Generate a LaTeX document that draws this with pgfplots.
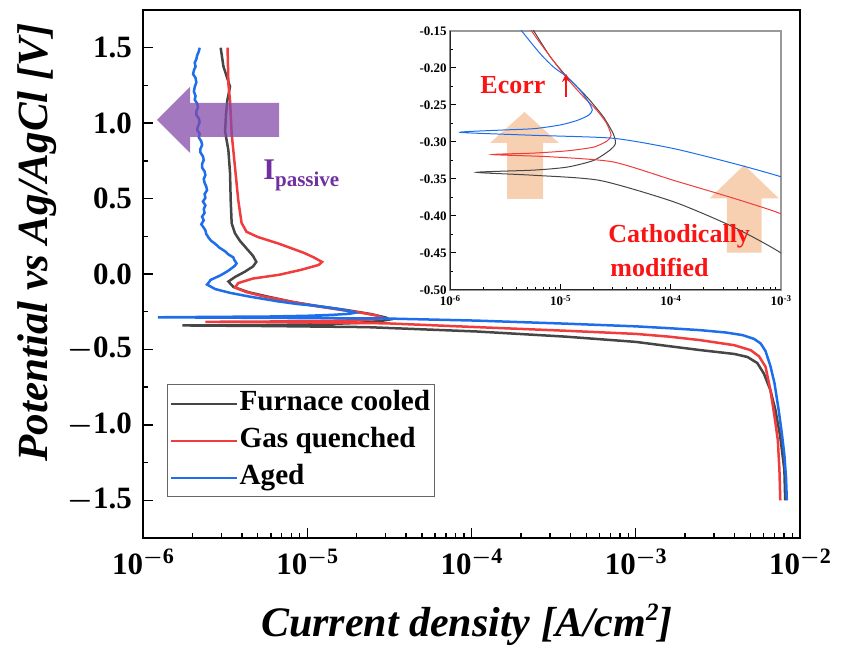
\documentclass[border=0pt]{standalone}
\usepackage{fontspec}
\setmainfont{Liberation Serif}
\usepackage{pgfplots}
\usepackage{pgfplotstable}
\pgfplotsset{compat=1.18}
\usetikzlibrary{arrows.meta}

\definecolor{cfur}{RGB}{70,70,70}
\definecolor{cgas}{RGB}{240,60,60}
\definecolor{cage}{RGB}{30,110,235}
\definecolor{cpur}{RGB}{132,75,168}
\definecolor{ctxt}{RGB}{112,48,160}
\definecolor{cpeach}{RGB}{246,200,165}
\definecolor{cred}{RGB}{250,20,20}

\DeclareRobustCommand{\mn}{{\boldmath$-$}}
\newcommand{\tk}[1]{\fontsize{15.5}{18}\selectfont\bfseries #1}
\newcommand{\dec}[1]{\fontsize{15.5}{18}\selectfont\bfseries 10\raisebox{0.75ex}{\fontsize{11}{11}\selectfont #1}}
\newcommand{\stk}[1]{\fontsize{6.5}{7}\selectfont\bfseries #1}
\newcommand{\sdec}[1]{\fontsize{6.5}{7}\selectfont\bfseries 10\raisebox{0.7ex}{\fontsize{4.5}{5}\selectfont #1}}

% log10 of current density, potential (V)
\pgfplotstableread{
lx E
-2.09 -1.50
-2.095 -1.30
-2.12 -1.08
-2.15 -0.90
-2.18 -0.77
-2.22 -0.66
-2.26 -0.59
-2.32 -0.55
-2.40 -0.530
-2.61 -0.504
-2.80 -0.478
-3.00 -0.450
-3.43 -0.415
-3.97 -0.381
-4.64 -0.352
-5.24 -0.345
-5.76 -0.341
-5.24 -0.338
-4.94 -0.334
-4.70 -0.325
-4.55 -0.311
-4.50 -0.302
-4.52 -0.289
-4.61 -0.266
-4.76 -0.239
-4.94 -0.212
-5.09 -0.185
-5.24 -0.150
-5.36 -0.120
-5.45 -0.085
-5.48 -0.050
-5.44 -0.020
-5.38 0.015
-5.33 0.050
-5.31 0.080
-5.33 0.120
-5.37 0.170
-5.41 0.220
-5.44 0.270
-5.46 0.336
-5.466 0.490
-5.47 0.670
-5.48 0.820
-5.50 0.944
-5.495 1.054
-5.486 1.154
-5.47 1.242
-5.51 1.375
-5.527 1.500
}\fur

\pgfplotstableread{
lx E
-2.12 -1.50
-2.125 -1.30
-2.135 -1.10
-2.155 -0.946
-2.18 -0.77
-2.21 -0.614
-2.25 -0.545
-2.30 -0.505
-2.40 -0.472
-2.61 -0.438
-2.80 -0.415
-3.00 -0.397
-3.43 -0.376
-3.97 -0.352
-4.52 -0.327
-5.09 -0.320
-5.62 -0.317
-5.24 -0.315
-4.94 -0.312
-4.70 -0.307
-4.58 -0.299
-4.54 -0.291
-4.58 -0.275
-4.67 -0.257
-4.79 -0.239
-4.94 -0.214
-5.09 -0.185
-5.26 -0.150
-5.37 -0.120
-5.44 -0.090
-5.42 -0.060
-5.33 -0.030
-5.17 -0.005
-5.04 0.027
-4.93 0.060
-4.91 0.080
-4.96 0.110
-5.02 0.140
-5.17 0.200
-5.30 0.245
-5.37 0.280
-5.40 0.340
-5.42 0.490
-5.44 0.710
-5.46 0.930
-5.47 1.150
-5.48 1.260
-5.485 1.500
}\gas

\pgfplotstableread{
lx E
-2.08 -1.50
-2.085 -1.35
-2.095 -1.20
-2.11 -1.06
-2.13 -0.90
-2.155 -0.725
-2.18 -0.61
-2.21 -0.51
-2.24 -0.46
-2.28 -0.43
-2.35 -0.405
-2.45 -0.388
-2.61 -0.372
-2.80 -0.359
-3.00 -0.347
-3.43 -0.329
-3.97 -0.309
-4.52 -0.295
-5.24 -0.291
-5.91 -0.287
-5.55 -0.284
-5.24 -0.282
-5.00 -0.277
-4.85 -0.271
-4.745 -0.264
-4.71 -0.257
-4.74 -0.247
-4.82 -0.230
-4.94 -0.212
-5.06 -0.199
-5.18 -0.181
-5.35 -0.150
-5.47 -0.125
-5.56 -0.100
-5.61 -0.070
-5.595 -0.050
-5.59 -0.040
-5.55 -0.020
-5.53 -0.010
-5.49 0.015
-5.47 0.030
-5.44 0.055
-5.43 0.070
-5.445 0.095
-5.45 0.110
-5.48 0.130
-5.50 0.150
-5.535 0.175
-5.56 0.200
-5.585 0.220
-5.60 0.240
-5.615 0.265
-5.62 0.290
-5.645 0.330
-5.63 0.355
-5.64 0.380
-5.625 0.405
-5.63 0.430
-5.62 0.455
-5.635 0.480
-5.62 0.505
-5.625 0.530
-5.61 0.555
-5.615 0.580
-5.625 0.605
-5.63 0.630
-5.62 0.655
-5.625 0.680
-5.64 0.705
-5.64 0.730
-5.63 0.755
-5.635 0.780
-5.65 0.805
-5.65 0.830
-5.64 0.855
-5.645 0.880
-5.66 0.905
-5.655 0.930
-5.67 0.955
-5.665 0.980
-5.655 1.005
-5.66 1.030
-5.675 1.055
-5.675 1.080
-5.665 1.105
-5.67 1.130
-5.685 1.155
-5.68 1.180
-5.69 1.210
-5.685 1.240
-5.675 1.270
-5.68 1.300
-5.695 1.325
-5.69 1.350
-5.68 1.375
-5.685 1.400
-5.675 1.425
-5.67 1.450
-5.66 1.475
-5.655 1.500
}\aged

\begin{document}
\begin{tikzpicture}
\useasboundingbox (-71.5pt,-57pt) rectangle (350.5pt,269pt);

\begin{axis}[
  at={(0pt,0pt)}, anchor=south west,
  width=328.5pt, height=264pt, scale only axis,
  xmode=log, xmin=1e-6, xmax=1e-2,
  ymin=-1.75, ymax=1.75,
  xtick={1e-6,1e-5,1e-4,1e-3,1e-2},
  xticklabels={\dec{\mn6},\dec{\mn5},\dec{\mn4},\dec{\mn3},\dec{\mn2}},
  ytick={-1.5,-1,-0.5,0,0.5,1,1.5},
  yticklabels={\tk{\mn1.5},\tk{\mn1.0},\tk{\mn0.5},\tk{0.0},\tk{0.5},\tk{1.0},\tk{1.5}},
  minor ytick={-1.25,-0.75,-0.25,0.25,0.75,1.25},
  tick pos=left, tick align=inside,
  major tick length=5pt, minor tick length=2.5pt,
  axis line style={line width=0.8pt},
  every tick/.style={black, line width=0.7pt},
  xticklabel style={yshift=-2pt},
  yticklabel style={xshift=-2pt},
  xlabel={\fontsize{21}{24}\selectfont\bfseries\itshape Current density [A/cm\raisebox{0.8ex}{\fontsize{12.5}{12.5}\selectfont 2}]},
  xlabel style={at={(axis description cs:0.493,0)}, anchor=base, yshift=-49pt},
  ylabel={\fontsize{21.5}{24}\selectfont\bfseries\itshape Potential vs Ag/AgCl [V]},
  ylabel style={at={(axis description cs:-0.161,0.56)}, anchor=center},
  legend cell align=left,
  legend style={at={(axis description cs:0.0365,0.2917)}, anchor=north west,
    draw=black!60, line width=0.6pt, inner xsep=1pt, inner ysep=1pt,
    font=\fontsize{14.6}{16}\selectfont\bfseries,
    nodes={inner sep=1pt, text height=11pt, text depth=4pt},
    row sep=1.5pt},
  legend image code/.code={\draw[#1] (0pt,0pt) -- (33pt,0pt);},
]
\addplot[cfur, line width=1.25pt, forget plot] table[x expr={10^(\thisrow{lx})}, y=E] {\fur};
\addplot[cgas, line width=1.25pt, forget plot] table[x expr={10^(\thisrow{lx})}, y=E] {\gas};
\addplot[cage, line width=1.25pt, forget plot] table[x expr={10^(\thisrow{lx})}, y=E] {\aged};
\addlegendimage{cfur, line width=1pt}
\addlegendentry{Furnace cooled}
\addlegendimage{cgas, line width=1pt}
\addlegendentry{Gas quenched}
\addlegendimage{cage, line width=1pt}
\addlegendentry{Aged}
\end{axis}

% purple arrow
\fill[cpur, opacity=0.75] (7pt,209pt) -- (23.5pt,225.5pt) -- (23.5pt,217.5pt) -- (68pt,217.5pt)
  -- (68pt,200.5pt) -- (23.5pt,200.5pt) -- (23.5pt,192.5pt) -- cycle;
\node[anchor=base west, text=ctxt, inner sep=0pt] at (60pt,179pt)
  {\fontsize{15}{15}\selectfont\bfseries I\raisebox{-3.5pt}{\fontsize{10.5}{10.5}\selectfont passive}};

% peach arrows (under inset curves)
\fill[cpeach, opacity=0.85] (182pt,169.5pt) -- (182pt,197.5pt) -- (173.5pt,197.5pt) -- (190.75pt,213pt)
  -- (208pt,197.5pt) -- (200pt,197.5pt) -- (200pt,169.5pt) -- cycle;
\fill[cpeach, opacity=0.85] (291.9pt,142.7pt) -- (291.9pt,169.8pt) -- (283.3pt,169.8pt) -- (300.6pt,186.5pt)
  -- (317.9pt,169.8pt) -- (309.3pt,169.8pt) -- (309.3pt,142.7pt) -- cycle;

\begin{axis}[
  at={(153.5pt,124pt)}, anchor=south west,
  width=165.5pt, height=129.5pt, scale only axis,
  xmode=log, xmin=1e-6, xmax=1e-3,
  ymin=-0.5, ymax=-0.15,
  xtick={1e-6,1e-5,1e-4,1e-3},
  xticklabels={\sdec{-6},\sdec{-5},\sdec{-4},\sdec{-3}},
  ytick={-0.5,-0.45,-0.4,-0.35,-0.3,-0.25,-0.2,-0.15},
  yticklabels={\stk{-0.50},\stk{-0.45},\stk{-0.40},\stk{-0.35},\stk{-0.30},\stk{-0.25},\stk{-0.20},\stk{-0.15}},
  minor ytick={-0.475,-0.425,-0.375,-0.325,-0.275,-0.225,-0.175},
  tick pos=left, tick align=inside,
  major tick length=3pt, minor tick length=1.5pt,
  axis line style={draw=black!40, line width=0.6pt},
  every tick/.style={black, line width=0.5pt},
  xticklabel style={inner sep=1pt, yshift=-1.5pt},
  yticklabel style={inner sep=1.5pt},
]
\addplot[cfur, line width=0.5pt, smooth, tension=0.4] table[x expr={10^(\thisrow{lx})}, y=E] {\fur};
\addplot[cgas, line width=0.5pt, smooth, tension=0.4] table[x expr={10^(\thisrow{lx})}, y=E] {\gas};
\addplot[cage, line width=0.5pt, smooth, tension=0.4] table[x expr={10^(\thisrow{lx})}, y=E] {\aged};
\draw[black!85, line width=0.6pt] (rel axis cs:0,1) -- (rel axis cs:0,0) -- (rel axis cs:1,0);
\end{axis}

% inset annotations
\node[anchor=base west, text=cred, inner sep=0pt] at (168.5pt,222pt) {\fontsize{13}{13}\selectfont\bfseries Ecorr};
\draw[cred, line width=1pt, -{Stealth[length=4pt,width=4pt]}] (211.5pt,220.5pt) -- (211.5pt,232pt);
\node[anchor=base west, text=cred, inner sep=0pt] at (232.5pt,147.5pt) {\fontsize{13}{13}\selectfont\bfseries Cathodically};
\node[anchor=base west, text=cred, inner sep=0pt] at (233.5pt,130.5pt) {\fontsize{13}{13}\selectfont\bfseries modified};
\end{tikzpicture}
\end{document}
